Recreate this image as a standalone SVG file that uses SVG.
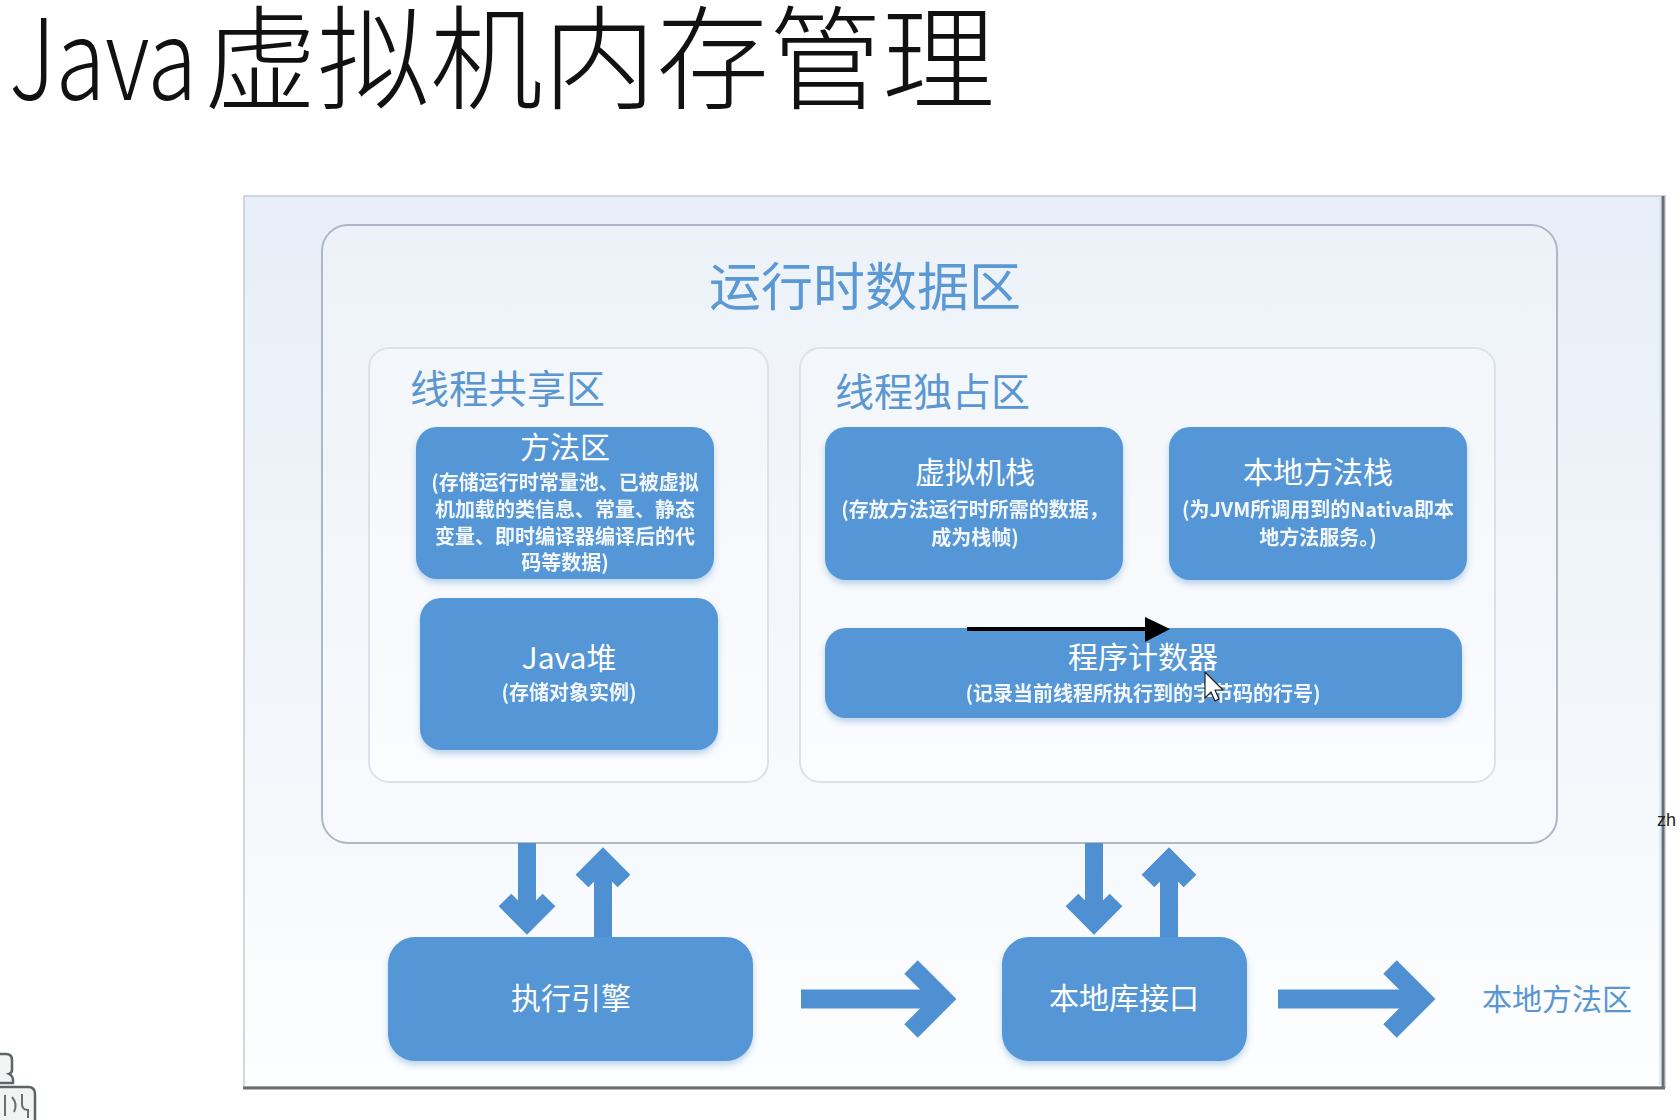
<svg xmlns="http://www.w3.org/2000/svg" width="1680" height="1120" viewBox="0 0 1680 1120">
<defs>
<linearGradient id="frameFill" x1="0" y1="0" x2="0" y2="1">
<stop offset="0" stop-color="#e7eef7"/>
<stop offset="0.6" stop-color="#f3f7fb"/>
<stop offset="1" stop-color="#fdfeff"/>
</linearGradient>
<linearGradient id="rtFill" x1="0" y1="0" x2="0" y2="1">
<stop offset="0" stop-color="#edf2f9"/>
<stop offset="1" stop-color="#f8fafd"/>
</linearGradient>
<linearGradient id="zoneFill" x1="0" y1="0" x2="0" y2="1">
<stop offset="0" stop-color="#f3f6fa"/>
<stop offset="1" stop-color="#fbfcfe"/>
</linearGradient>
<filter id="shadow" x="-10%" y="-10%" width="120%" height="130%">
<feDropShadow dx="0" dy="4" stdDeviation="3" flood-color="#6fa3d6" flood-opacity="0.45"/>
</filter>
</defs>
<style>
.cjk{font-family:"Noto Sans CJK SC","Liberation Sans",sans-serif;}
.box{fill:#5596d6;filter:url(#shadow);}
.zone{fill:url(#zoneFill);stroke:#dce2ea;stroke-width:2;}
.h{fill:#ffffff;font-size:30px;text-anchor:middle;}
.s{fill:#ffffff;font-size:20px;font-weight:bold;text-anchor:middle;opacity:0.93;}
.lbl{fill:#5a96d2;}
.arr{fill:none;stroke:#4f90d2;stroke-linejoin:miter;stroke-linecap:butt;}
</style>

<rect width="1680" height="1120" fill="#ffffff"/>

<g id="title" class="cjk" fill="#111111" font-weight="300">
<text x="9" y="100" font-size="112" textLength="188" lengthAdjust="spacingAndGlyphs">Java</text>
<text x="204" y="100" font-size="113">虚拟机内存管理</text>
</g>

<g id="frame">
<rect x="244" y="196" width="1421" height="891" fill="url(#frameFill)" stroke="#c6cbd3" stroke-width="1.5"/>
<line x1="1663" y1="196" x2="1663" y2="1089" stroke="#6a6e74" stroke-width="3"/>
<line x1="243" y1="1088" x2="1665" y2="1088" stroke="#6a6e74" stroke-width="3"/>
<line x1="1660" y1="198" x2="1660" y2="1085" stroke="#cfe7f2" stroke-width="1.5"/>
</g>

<g id="runtime-area">
<rect x="322" y="225" width="1235" height="618" rx="26" fill="url(#rtFill)" stroke="#aeb7c5" stroke-width="2"/>
<text class="cjk" x="865" y="306" font-size="52" fill="#5b99d4" text-anchor="middle">运行时数据区</text>
</g>

<g id="shared-zone">
<rect class="zone" x="369" y="348" width="399" height="434" rx="20"/>
<text class="cjk lbl" x="410" y="403" font-size="39">线程共享区</text>
</g>

<g id="private-zone">
<rect class="zone" x="800" y="348" width="695" height="434" rx="20"/>
<text class="cjk lbl" x="835" y="406" font-size="39">线程独占区</text>
</g>

<g id="method-area">
<rect class="box" x="416" y="427" width="298" height="152" rx="21"/>
<text class="cjk h" x="565" y="458">方法区</text>
<text class="cjk s" x="565" y="490">(存储运行时常量池、已被虚拟</text>
<text class="cjk s" x="565" y="517">机加载的类信息、常量、静态</text>
<text class="cjk s" x="565" y="544">变量、即时编译器编译后的代</text>
<text class="cjk s" x="565" y="570">码等数据)</text>
</g>

<g id="java-heap">
<rect class="box" x="420" y="598" width="298" height="152" rx="21"/>
<text class="cjk h" x="569" y="669">Java堆</text>
<text class="cjk s" x="569" y="700">(存储对象实例)</text>
</g>

<g id="vm-stack">
<rect class="box" x="825" y="427" width="298" height="153" rx="21"/>
<text class="cjk h" x="975" y="483">虚拟机栈</text>
<text class="cjk s" x="975" y="517">(存放方法运行时所需的数据，</text>
<text class="cjk s" x="975" y="545">成为栈帧)</text>
</g>

<g id="native-stack">
<rect class="box" x="1169" y="427" width="298" height="153" rx="21"/>
<text class="cjk h" x="1318" y="483">本地方法栈</text>
<text class="cjk s" x="1318" y="517">(为JVM所调用到的Nativa即本</text>
<text class="cjk s" x="1318" y="545">地方法服务。)</text>
</g>

<g id="pc-register">
<rect class="box" x="825" y="628" width="637" height="90" rx="21"/>
<text class="cjk h" x="1143" y="668">程序计数器</text>
<text class="cjk s" x="1143" y="701">(记录当前线程所执行到的字节码的行号)</text>
</g>

<g id="exec-engine">
<rect class="box" x="388" y="937" width="365" height="124" rx="27"/>
<text class="cjk h" x="571" y="1009">执行引擎</text>
</g>

<g id="native-interface">
<rect class="box" x="1002" y="937" width="245" height="124" rx="27"/>
<text class="cjk h" x="1124" y="1009">本地库接口</text>
</g>

<g id="native-method-area">
<text class="cjk lbl" x="1482" y="1010" font-size="30">本地方法区</text>
</g>

<g id="connectors">
<path class="arr" stroke-width="18" d="M527 843 V918"/>
<path class="arr" stroke-width="18" d="M505 900 L527 922 L549 900"/>
<path class="arr" stroke-width="18" d="M603 937 V864"/>
<path class="arr" stroke-width="18" d="M582 881 L603 860 L624 881"/>
<path class="arr" stroke-width="18" d="M1094 843 V918"/>
<path class="arr" stroke-width="18" d="M1072 900 L1094 922 L1116 900"/>
<path class="arr" stroke-width="18" d="M1169 937 V864"/>
<path class="arr" stroke-width="18" d="M1148 881 L1169 860 L1190 881"/>
<path class="arr" stroke-width="19" d="M801 999 H938"/>
<path class="arr" stroke-width="19" d="M911 967 L943 999 L911 1031"/>
<path class="arr" stroke-width="19" d="M1278 999 H1417"/>
<path class="arr" stroke-width="19" d="M1390 967 L1422 999 L1390 1031"/>
<line x1="967" y1="629" x2="1146" y2="629" stroke="#000" stroke-width="4"/>
<path d="M1145 617 L1170 629 L1145 642 Z" fill="#000"/>
</g>

<g id="cursor">
<path d="M1205 672 L1205 698 L1211 692 L1215 701 L1219 699 L1215 690 L1223 690 Z" fill="#ffffff" stroke="#222" stroke-width="1.2" stroke-linejoin="round"/>
</g>

<text id="zh" x="1657" y="826" font-family="Liberation Sans, sans-serif" font-size="18" fill="#222">zh</text>

<g id="corner-icon" fill="#f2f4f4" stroke="#5d6466" stroke-width="2.5">
<path d="M-4 1054 H6 Q12 1054 12 1060 V1070 Q12 1073 9 1074 Q13 1076 13 1080 V1083 H-4 Z"/>
<path d="M-4 1087 H28 Q35 1087 35 1094 V1122 H-4 Z"/>
<path d="M5 1095 V1116 M12 1097 Q18 1104 14 1112 M22 1094 V1104 Q22 1110 28 1110 V1118" fill="none" stroke="#6a7072" stroke-width="2"/>
</g>
</svg>
